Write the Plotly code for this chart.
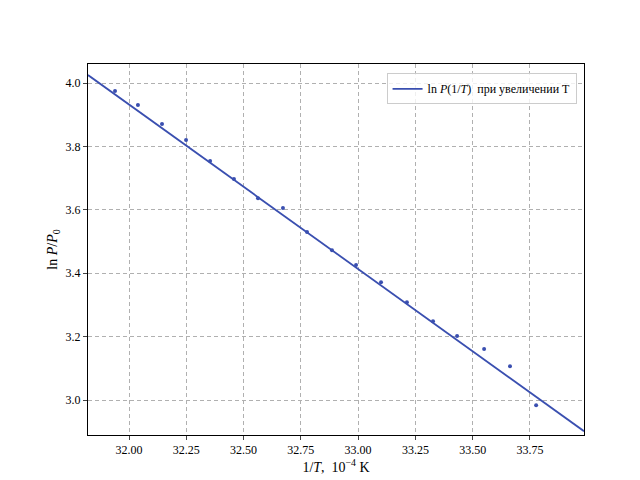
import plotly.graph_objects as go

inv_t = [31.939, 32.039, 32.144, 32.249, 32.354, 32.458, 32.563, 32.672, 32.777,
         32.886, 32.991, 33.100, 33.213, 33.327, 33.432, 33.550, 33.663, 33.777]
ln_p = [3.975, 3.931, 3.871, 3.820, 3.754, 3.697, 3.637, 3.606, 3.530,
        3.473, 3.426, 3.372, 3.309, 3.249, 3.202, 3.161, 3.107, 2.984]

# fitted line parameters
slope = -0.5187
x0, y0 = 31.821, 4.025
x_fit = [31.821, 33.986]
y_fit = [y0 + slope * (x - x0) for x in x_fit]

color = "#3a4fb0"
font = dict(family="Liberation Serif, DejaVu Serif, serif", size=12, color="black")

fig = go.Figure()
fig.add_trace(go.Scatter(x=inv_t, y=ln_p, mode="markers", marker=dict(color=color, size=4),
                         showlegend=False))
fig.add_trace(go.Scatter(x=x_fit, y=y_fit, mode="lines", line=dict(color=color, width=1.8),
                         name="ln <i>P</i>(1/<i>T</i>)  при увеличении T"))

axis = dict(showline=True, linecolor="black", mirror=True, ticks="outside", ticklen=4,
            showgrid=True, gridcolor="#b0b0b0", griddash="4px,3px", zeroline=False,
            automargin=False)
fig.update_xaxes(range=[31.821, 33.986], tickvals=[32.0, 32.25, 32.5, 32.75, 33.0, 33.25, 33.5, 33.75],
                 ticktext=["32.00", "32.25", "32.50", "32.75", "33.00", "33.25", "33.50", "33.75"],
                 title=dict(text="1/<i>T</i>,  10<sup>−4</sup> K", standoff=4), **axis)
fig.update_yaxes(range=[2.89, 4.06], tickvals=[3.0, 3.2, 3.4, 3.6, 3.8, 4.0],
                 ticktext=["3.0", "3.2", "3.4", "3.6", "3.8", "4.0"],
                 title=dict(text="ln <i>P</i>/<i>P</i><sub>0</sub>", standoff=4), **axis)
fig.update_layout(width=640, height=480, margin=dict(l=80, r=64, t=56, b=53, pad=0),
                  plot_bgcolor="white", paper_bgcolor="white", font=font,
                  legend=dict(x=0.985, y=0.975, xanchor="right", yanchor="top",
                              bordercolor="#cccccc", borderwidth=1, bgcolor="rgba(255,255,255,0.8)"))
fig.write_html("out.html")
